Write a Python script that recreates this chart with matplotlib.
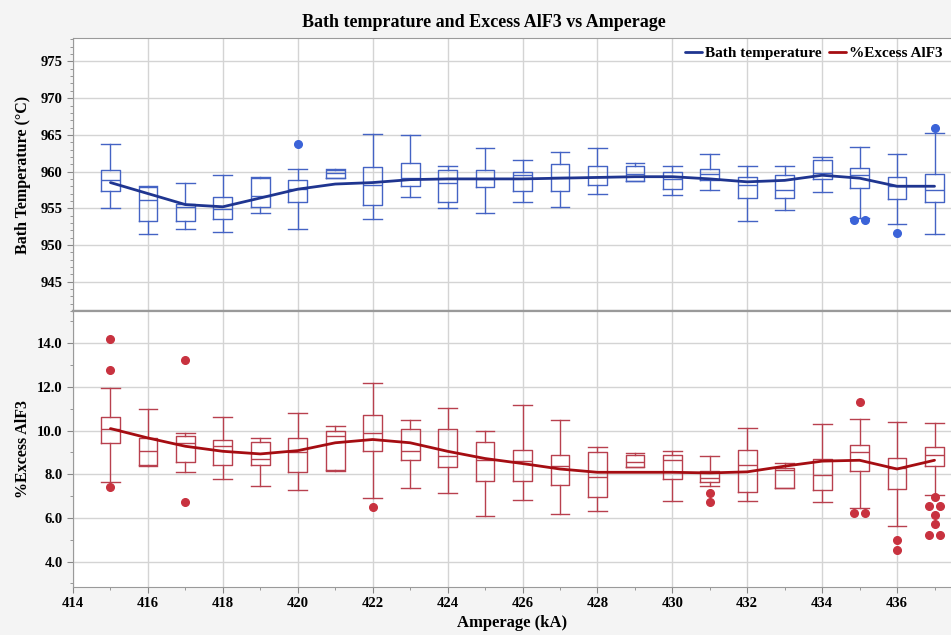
import matplotlib
matplotlib.use('Agg')
from matplotlib import pyplot as plt
from matplotlib.ticker import MultipleLocator, FormatStrFormatter

amps = list(range(415, 438))

# bath temperature box stats (deg C)
temp_hi = [963.7, 958.1, 958.5, 959.5, 959.2, 960.4, 960.4, 965.1, 965.0, 960.8, 963.2, 961.6,
           962.6, 963.2, 961.2, 960.7, 962.4, 960.7, 960.8, 962.0, 963.3, 962.4, 965.2]
temp_q3 = [960.2, 957.9, 955.6, 956.5, 959.1, 958.8, 960.2, 960.6, 961.1, 960.2, 960.2, 960.0,
           961.0, 960.8, 960.8, 960.0, 960.3, 959.2, 959.5, 961.6, 960.5, 959.2, 959.7]
temp_med = [958.9, 956.1, 955.2, 954.9, 956.7, 957.6, 959.8, 958.2, 959.1, 958.4, 959.0, 959.5,
            959.3, 959.3, 959.7, 959.0, 959.6, 958.2, 957.5, 959.8, 959.5, 958.0, 957.5]
temp_q1 = [957.3, 953.3, 953.3, 953.5, 955.2, 955.8, 959.1, 955.4, 958.0, 955.9, 957.9, 957.3,
           957.3, 958.2, 958.7, 957.6, 958.9, 956.4, 956.4, 959.0, 957.7, 956.3, 955.8]
temp_lo = [955.0, 951.5, 952.2, 951.7, 954.3, 952.2, 959.1, 953.5, 956.6, 955.1, 954.3, 955.8,
           955.2, 957.0, 958.7, 956.8, 957.5, 953.3, 954.7, 957.2, 953.7, 952.9, 951.5]
temp_out = {420: [963.7], 435: [953.4, 953.4], 436: [951.6], 437: [966.0]}
temp_fit = [958.5, 957.0, 955.5, 955.2, 956.4, 957.6, 958.3, 958.5, 958.9, 959.0, 959.0, 959.0,
            959.1, 959.2, 959.3, 959.3, 959.0, 958.6, 958.8, 959.5, 959.1, 958.0, 958.0]

# excess AlF3 box stats (%)
alf_hi = [11.94, 10.98, 9.88, 10.64, 9.66, 10.82, 10.23, 12.18, 10.50, 11.01, 9.98, 11.15,
          10.50, 9.25, 8.95, 9.08, 8.82, 10.12, 8.52, 10.31, 10.55, 10.41, 10.35]
alf_q3 = [10.64, 9.65, 9.73, 9.56, 9.47, 9.66, 9.97, 10.72, 10.08, 10.08, 9.47, 9.13,
          8.89, 9.01, 8.87, 8.90, 8.17, 9.13, 8.29, 8.70, 9.36, 8.73, 9.25]
alf_med = [10.08, 9.05, 9.44, 9.28, 8.72, 9.0, 9.77, 9.89, 9.08, 8.85, 8.67, 8.60,
           8.37, 7.88, 8.55, 8.67, 7.83, 8.44, 8.18, 7.98, 9.01, 8.30, 8.87]
alf_q1 = [9.42, 8.44, 8.58, 8.41, 8.41, 8.11, 8.21, 9.05, 8.67, 8.34, 7.71, 7.68,
          7.50, 6.95, 8.31, 7.79, 7.63, 7.18, 7.37, 7.30, 8.17, 7.32, 8.37]
alf_lo = [7.65, 8.37, 8.11, 7.79, 7.45, 7.30, 8.17, 6.89, 7.36, 7.13, 6.09, 6.84,
          6.20, 6.34, 8.31, 6.76, 7.45, 6.79, 7.37, 6.72, 6.46, 5.65, 7.07]
alf_out = {415: [14.21, 12.75, 7.42], 417: [13.25, 6.72], 422: [6.49], 431: [7.15, 6.72],
           435: [11.30, 6.23, 6.23], 436: [4.98, 4.55],
           437: [6.96, 6.56, 6.56, 6.15, 5.73, 5.24, 5.24]}
alf_fit = [10.09, 9.66, 9.28, 9.05, 8.93, 9.08, 9.44, 9.59, 9.44, 9.05, 8.72, 8.49,
           8.24, 8.09, 8.09, 8.09, 8.06, 8.11, 8.37, 8.60, 8.64, 8.24, 8.64]

SERIF = 'Liberation Serif'
BLUE_BOX = '#4463c4'
BLUE_PT = '#3b63d8'
BLUE_FIT = '#1f3590'
RED_BOX = '#b8404e'
RED_PT = '#c8323f'
RED_FIT = '#a50d12'
GRID = '#d4d4d4'
SPINE = '#9a9a9a'


def draw_panel(ax, lo, q1, med, q3, hi, outliers, fit, box_col, pt_col, fit_col, label):
    stats = []
    for i in range(len(amps)):
        stats.append({'whislo': lo[i], 'q1': q1[i], 'med': med[i], 'q3': q3[i], 'whishi': hi[i]})
    line = dict(color=box_col, linewidth=1.0)
    ax.bxp(stats, positions=amps, widths=0.5, capwidths=0.5, showfliers=False,
           boxprops=line, whiskerprops=line, capprops=line, medianprops=line,
           manage_ticks=False)
    # outliers: side by side when the same value repeats
    for a, vals in outliers.items():
        seen = {}
        for v in vals:
            seen[v] = seen.get(v, 0) + 1
        for v, n in seen.items():
            for k in range(n):
                dx = (k - (n - 1) / 2) * 0.3
                ax.plot(a + dx, v, 'o', color=pt_col, markersize=5.5, zorder=4)
    ax.plot(amps, fit, color=fit_col, linewidth=2.0, solid_capstyle='round',
            solid_joinstyle='round', zorder=5, label=label)
    ax.set_xlim(414, 437.44)
    ax.xaxis.set_major_locator(MultipleLocator(2))
    ax.xaxis.set_minor_locator(MultipleLocator(1))
    ax.grid(True, which='major', color=GRID, linewidth=1.0)
    ax.set_axisbelow(True)
    ax.spines['right'].set_visible(False)
    for s in ['left', 'top', 'bottom']:
        ax.spines[s].set_color(SPINE)
    ax.tick_params(which='major', direction='out', length=4, color='#888888', labelsize=10.5)
    ax.tick_params(which='minor', direction='out', length=2.5, color='#888888')


def bold_ticks(ax):
    for t in ax.get_yticklabels() + ax.get_xticklabels():
        t.set_family(SERIF)
        t.set_fontweight('bold')


fig = plt.figure(figsize=(9.51, 6.35), dpi=100, facecolor='#f4f4f4')
ax1 = fig.add_axes([0.0768, 0.5102, 0.9232, 0.4300])
ax2 = fig.add_axes([0.0768, 0.0756, 0.9232, 0.4346])

draw_panel(ax1, temp_lo, temp_q1, temp_med, temp_q3, temp_hi, temp_out, temp_fit,
           BLUE_BOX, BLUE_PT, BLUE_FIT, 'Bath temperature')
ax1.set_ylim(941.0, 978.2)
ax1.yaxis.set_major_locator(MultipleLocator(5))
ax1.yaxis.set_minor_locator(MultipleLocator(1))
ax1.tick_params(axis='x', which='both', labelbottom=False, length=0)
ax1.spines['bottom'].set_linewidth(1.6)
bold_ticks(ax1)
ax1.set_ylabel('Bath Temperature (°C)', family=SERIF, fontweight='bold', fontsize=11.5)
ax1.yaxis.set_label_coords(-0.048, 0.5)

draw_panel(ax2, alf_lo, alf_q1, alf_med, alf_q3, alf_hi, alf_out, alf_fit,
           RED_BOX, RED_PT, RED_FIT, '%Excess AlF3')
ax2.set_ylim(2.84, 15.47)
ax2.yaxis.set_major_locator(MultipleLocator(2))
ax2.yaxis.set_minor_locator(MultipleLocator(1))
ax2.yaxis.set_major_formatter(FormatStrFormatter('%.1f'))
ax2.spines['top'].set_linewidth(1.6)
bold_ticks(ax2)
ax2.set_ylabel('%Excess AlF3', family=SERIF, fontweight='bold', fontsize=11.5)
ax2.yaxis.set_label_coords(-0.048, 0.5)
ax2.set_xlabel('Amperage (kA)', family=SERIF, fontweight='bold', fontsize=12)
ax2.xaxis.set_label_coords(0.5, -0.1)

h1, l1 = ax1.get_legend_handles_labels()
h2, l2 = ax2.get_legend_handles_labels()
ax1.legend(h1 + h2, l1 + l2, loc='upper right', ncol=2, frameon=False,
           handlelength=1.1, handletextpad=0.2, columnspacing=0.5,
           borderaxespad=0.15, prop={'family': SERIF, 'weight': 'bold', 'size': 11})

fig.text(0.509, 0.965, 'Bath temprature and Excess AlF3 vs Amperage', ha='center', va='center',
         family=SERIF, fontweight='bold', fontsize=13)

fig.savefig('out.png', dpi=100, facecolor=fig.get_facecolor())
